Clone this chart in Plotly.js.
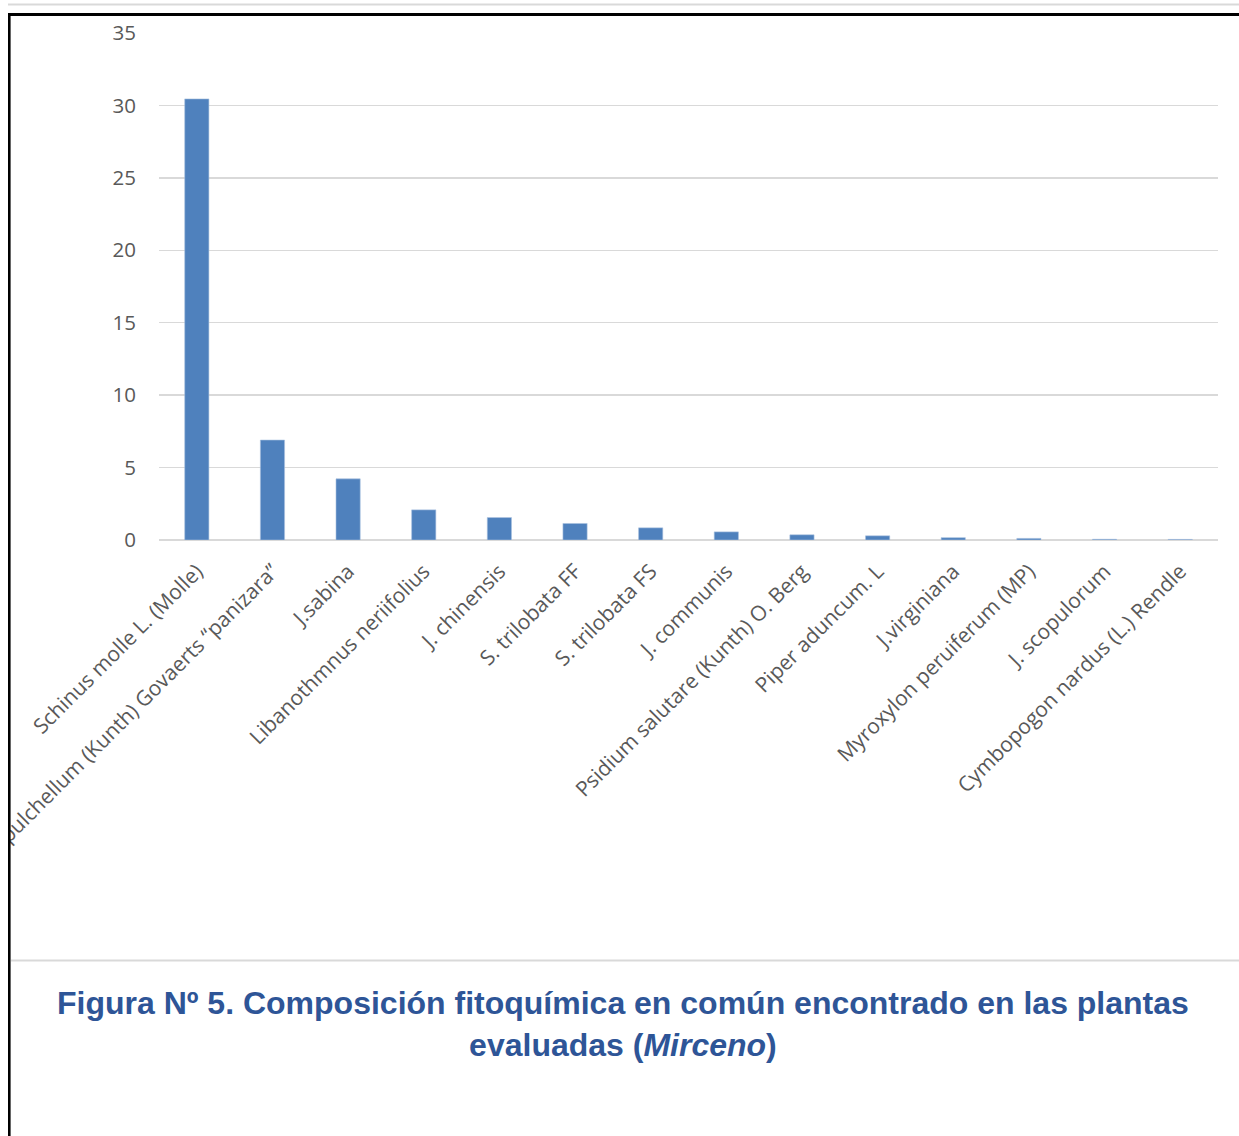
<!DOCTYPE html>
<html>
<head>
<meta charset="utf-8">
<script src="https://cdn.plot.ly/plotly-3.0.1.min.js"></script>
<style>
  html, body { margin: 0; padding: 0; background: #ffffff; }
  #chart { width: 1239px; height: 1136px; }
</style>
</head>
<body>
<div id="chart"></div>
<script>
// Plant species (x categories)
const species = [
  "Schinus molle L. (Molle)",
  "Clinopodium pulchellum (Kunth) Govaerts \u201cpanizara\u201d",
  "J.sabina",
  "Libanothmnus neriifolius",
  "J. chinensis",
  "S. trilobata FF",
  "S. trilobata FS",
  "J. communis",
  "Psidium salutare (Kunth) O. Berg",
  "Piper aduncum. L",
  "J.virginiana",
  "Myroxylon peruiferum (MP)",
  "J. scopulorum",
  "Cymbopogon nardus (L.) Rendle"
];

// Myrcene content (%) for each species
const mirceno = [30.45, 6.9, 4.22, 2.08, 1.55, 1.14, 0.84, 0.56, 0.36, 0.29, 0.16, 0.11, 0.05, 0.04];

// Y axis ticks
const yTicks = [0, 5, 10, 15, 20, 25, 30, 35];

// Plot area geometry in pixels
const W = 1239, H = 1136;
const plotL = 159, plotR = 1218, plotT = 33, plotB = 540;
const px = x => (x - plotL) / (plotR - plotL);
const py = y => (plotB - y) / (plotB - plotT);

const trace = {
  type: "bar",
  x: species,
  y: mirceno,
  marker: { color: "#4F81BD", line: { color: "#A9C1DF", width: 0.6 } },
  hoverinfo: "x+y"
};

const layout = {
  width: W,
  height: H,
  paper_bgcolor: "#ffffff",
  plot_bgcolor: "#ffffff",
  showlegend: false,
  bargap: 0.68,
  margin: { l: plotL, r: W - plotR, t: plotT, b: H - plotB, pad: 0 },
  font: { family: "Open Sans, sans-serif", color: "#595959" },
  xaxis: {
    type: "category",
    tickangle: -45,
    tickfont: { size: 21, color: "#595959" },
    showgrid: false,
    showline: false,
    zeroline: false,
    ticks: "",
    ticklabelstandoff: 14,
    automargin: false
  },
  yaxis: {
    range: [0, 35],
    tickvals: yTicks,
    ticktext: yTicks.map(String),
    tickfont: { size: 20.5, color: "#595959" },
    showgrid: true,
    gridcolor: "#D9D9D9",
    gridwidth: 1.5,
    zeroline: true,
    zerolinecolor: "#D9D9D9",
    zerolinewidth: 2,
    showline: false,
    ticks: "",
    ticklabelstandoff: 22,
    automargin: false
  },
  shapes: [
    // white strip left of the frame hides overflowing label text
    { type: "rect", xref: "paper", yref: "paper", layer: "above",
      x0: px(-5), x1: px(8), y0: py(H + 5), y1: py(-5),
      fillcolor: "#ffffff", line: { width: 0 } },
    // light rule at the very top
    { type: "line", xref: "paper", yref: "paper", layer: "above",
      x0: px(8), x1: px(W + 2), y0: py(4.5), y1: py(4.5),
      line: { color: "#D9D9D9", width: 2 } },
    // black frame: top edge
    { type: "line", xref: "paper", yref: "paper", layer: "above",
      x0: px(8), x1: px(W + 2), y0: py(14.5), y1: py(14.5),
      line: { color: "#000000", width: 3 } },
    // black frame: left edge
    { type: "line", xref: "paper", yref: "paper", layer: "above",
      x0: px(9.3), x1: px(9.3), y0: py(13), y1: py(H + 2),
      line: { color: "#000000", width: 2.6 } },
    // separator above the caption
    { type: "line", xref: "paper", yref: "paper", layer: "above",
      x0: px(11), x1: px(W + 2), y0: py(960.5), y1: py(960.5),
      line: { color: "#D9D9D9", width: 2 } }
  ],
  annotations: [
    {
      xref: "paper", yref: "paper",
      x: px(623), y: py(1024),
      xanchor: "center", yanchor: "middle",
      showarrow: false,
      align: "center",
      text: "<b>Figura Nº 5. Composición fitoquímica en común encontrado en las plantas<br>evaluadas (<i>Mirceno</i>)</b>",
      font: { family: "Liberation Sans, Arial, sans-serif", size: 32, color: "#2E5597" }
    }
  ]
};

Plotly.newPlot("chart", [trace], layout, { displayModeBar: false, staticPlot: true });
</script>
</body>
</html>
